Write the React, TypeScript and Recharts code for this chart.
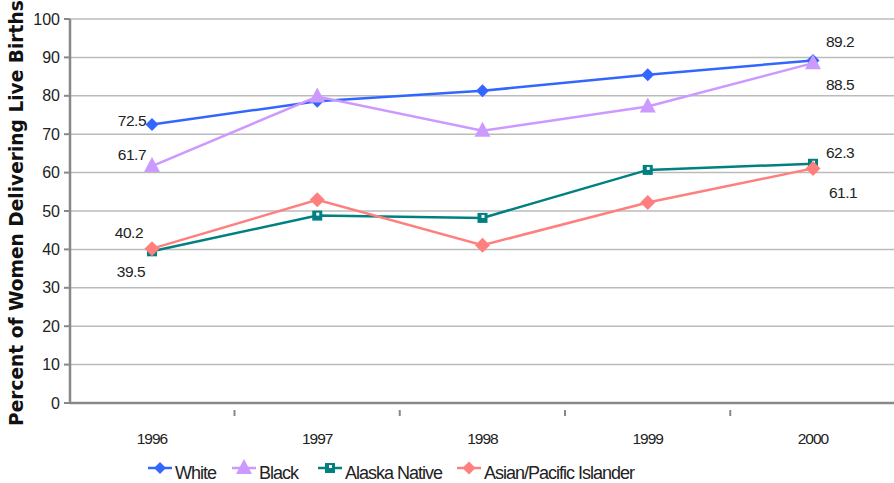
import React from 'react';
import { LineChart, Line, XAxis, YAxis, CartesianGrid, LabelList } from 'recharts';

const years = ['1996', '1997', '1998', '1999', '2000'];
const white = [72.5, 78.6, 81.3, 85.5, 89.2];
const black = [61.7, 79.8, 70.9, 77.2, 88.5];
const alaska = [39.5, 48.8, 48.2, 60.7, 62.3];
const asian = [40.2, 52.9, 41.1, 52.2, 61.1];
const yTicks = [0, 10, 20, 30, 40, 50, 60, 70, 80, 90, 100];

const data = years.map((y, i) => ({ year: y, white: white[i], black: black[i], alaska: alaska[i], asian: asian[i] }));

const C_WHITE = '#3366ff';
const C_BLACK = '#cc99ff';
const C_ALASKA = '#008080';
const C_ASIAN = '#ff7f7f';
const FONT = '"Liberation Sans", Arial, sans-serif';

const Diamond = ({ cx, cy, r, color }: any) => (
  <polygon points={`${cx},${cy - r} ${cx + r},${cy} ${cx},${cy + r} ${cx - r},${cy}`} fill={color} />
);
const Triangle = ({ cx, cy, color }: any) => (
  <polygon points={`${cx},${cy - 9} ${cx + 8},${cy + 6} ${cx - 8},${cy + 6}`} fill={color} />
);
const Square = ({ cx, cy, color }: any) => (
  <g>
    <rect x={cx - 5} y={cy - 5} width={10} height={10} fill={color} />
    <rect x={cx - 1} y={cy - 3} width={3} height={3} fill="#fff" />
  </g>
);

const dotWhite = (p: any) => <Diamond key={`w${p.index}`} cx={p.cx} cy={p.cy} r={6.5} color={C_WHITE} />;
const dotBlack = (p: any) => <Triangle key={`b${p.index}`} cx={p.cx} cy={p.cy} color={C_BLACK} />;
const dotAlaska = (p: any) => <Square key={`a${p.index}`} cx={p.cx} cy={p.cy} color={C_ALASKA} />;
const dotAsian = (p: any) => <Diamond key={`s${p.index}`} cx={p.cx} cy={p.cy} r={7.5} color={C_ASIAN} />;

const makeLabel = (first: [number, number], last: [number, number]) => (props: any) => {
  const { x, y, value, index } = props;
  if (index !== 0 && index !== years.length - 1) return null;
  const isFirst = index === 0;
  const [dx, dy] = isFirst ? first : last;
  return (
    <text
      x={x + dx}
      y={y + dy}
      textAnchor={isFirst ? 'end' : 'start'}
      dominantBaseline="central"
      fontFamily={FONT}
      fontSize={15.5}
      fill="#222"
      letterSpacing={-0.5}
    >
      {value}
    </text>
  );
};

const XTick = (props: any) => {
  const { x, y, payload } = props;
  const half = 82.5;
  return (
    <g>
      <line x1={x + half} y1={y - 1} x2={x + half} y2={y + 5} stroke="#888" strokeWidth={2} />
      <text x={x} y={y + 27} textAnchor="middle" dominantBaseline="central" fontFamily={FONT} fontSize={15.5} fill="#222" letterSpacing={-1}>
        {payload.value}
      </text>
    </g>
  );
};

const legendItems = [
  { name: 'White', color: C_WHITE, kind: 'dw', x: 148 },
  { name: 'Black', color: C_BLACK, kind: 'tri', x: 232 },
  { name: 'Alaska Native', color: C_ALASKA, kind: 'sq', x: 318 },
  { name: 'Asian/Pacific Islander', color: C_ASIAN, kind: 'da', x: 457 },
];

const LegendBox = () => (
  <svg width={894} height={28} style={{ position: 'absolute', left: 0, top: 455, display: 'block', overflow: 'visible' }}>
    {legendItems.map((it) => {
      const cy = 13;
      const mid = it.x + 12;
      let marker: any = null;
      if (it.kind === 'dw') marker = <Diamond cx={mid} cy={cy} r={6} color={it.color} />;
      if (it.kind === 'da') marker = <Diamond cx={mid} cy={cy} r={6.5} color={it.color} />;
      if (it.kind === 'tri') marker = <Triangle cx={mid} cy={cy} color={it.color} />;
      if (it.kind === 'sq') marker = <Square cx={mid} cy={cy} color={it.color} />;
      return (
        <g key={it.name}>
          <line x1={it.x} y1={cy} x2={it.x + 24} y2={cy} stroke={it.color} strokeWidth={2.5} />
          {marker}
          <text x={it.x + 27} y={cy + 5} dominantBaseline="central" fontFamily={FONT} fontSize={18} fill="#222" letterSpacing={-1}>
            {it.name}
          </text>
        </g>
      );
    })}
  </svg>
);

const YLabel = () => (
  <text
    transform="translate(23, 426) rotate(-90)"
    x={0}
    y={0}
    textAnchor="start"
    fontFamily='"DejaVu Sans", sans-serif'
    fontSize={18.6}
    fontWeight="bold"
    fill="#111"
  >
    Percent of Women Delivering Live Births
  </text>
);

export default function App() {
  return (
    <div style={{ position: 'absolute', left: 0, top: 0, width: 894, height: 483, overflow: 'hidden', background: '#fff' }}>
      <LineChart
        width={900}
        height={483}
        data={data}
        margin={{ top: 19, right: 5, bottom: 50, left: 0 }}
      >
        <CartesianGrid vertical={false} stroke="#bbb" strokeWidth={1.5} />
        <XAxis
          dataKey="year"
          height={30}
          padding={{ left: 82, right: 82 }}
          axisLine={{ stroke: '#888', strokeWidth: 2.5 }}
          tickLine={false}
          tick={<XTick />}
          interval={0}
        />
        <YAxis
          width={70}
          domain={[0, 100]}
          ticks={yTicks}
          interval={0}
          axisLine={{ stroke: '#888', strokeWidth: 2.5 }}
          tickLine={{ stroke: '#888', strokeWidth: 2 }}
          tickSize={6}
          tickMargin={4}
          tick={{ fontFamily: FONT, fontSize: 16, fill: '#222' }}
        />
        <Line dataKey="white" name="White" stroke={C_WHITE} strokeWidth={2.5} dot={dotWhite} isAnimationActive={false}>
          <LabelList dataKey="white" content={makeLabel([-6, -4], [13, -19])} />
        </Line>
        <Line dataKey="black" name="Black" stroke={C_BLACK} strokeWidth={2.5} dot={dotBlack} isAnimationActive={false}>
          <LabelList dataKey="black" content={makeLabel([-6, -12], [13, 21])} />
        </Line>
        <Line dataKey="alaska" name="Alaska Native" stroke={C_ALASKA} strokeWidth={2.5} dot={dotAlaska} isAnimationActive={false}>
          <LabelList dataKey="alaska" content={makeLabel([-7, 20], [13, -11])} />
        </Line>
        <Line dataKey="asian" name="Asian/Pacific Islander" stroke={C_ASIAN} strokeWidth={2.5} dot={dotAsian} isAnimationActive={false}>
          <LabelList dataKey="asian" content={makeLabel([-9, -16], [16, 24])} />
        </Line>
        <YLabel />
      </LineChart>
      <LegendBox />
    </div>
  );
}
